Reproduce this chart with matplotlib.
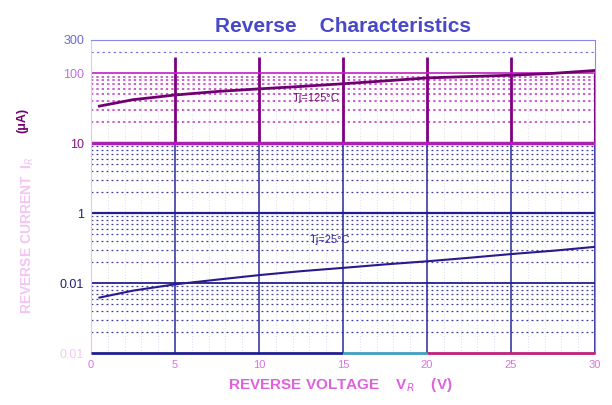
import matplotlib
matplotlib.use('Agg')
import matplotlib.pyplot as plt

plt.rcParams['font.family'] = ['Liberation Sans', 'DejaVu Sans']

# Reverse voltage (V) and reverse current (uA)
vr = [0.5, 2.5, 5, 7.5, 10, 12.5, 15, 17.5, 20, 22.5, 25, 27.5, 30]
ir_125 = [34, 42, 49, 55, 60, 65, 71, 78, 86, 90, 94, 100, 110]
ir_25 = [0.062, 0.078, 0.096, 0.112, 0.13, 0.148, 0.165, 0.185, 0.205, 0.23, 0.26, 0.29, 0.33]

x_ticks = [0, 5, 10, 15, 20, 25, 30]
x_tick_labels = ['0', '5', '10', '15', '20', '25', '30']
y_ticks = [300, 100, 10, 1, 0.1, 0.01]
y_tick_labels = ['300', '100', '10', '1', '0.01', '0.01']
y_tick_colors = ['#6a6ad8', '#c070e0', '#8a108a', '#202070', '#202070', '#f4c8f4']

fig = plt.figure(figsize=(6.12, 4.05), dpi=100)
ax = fig.add_axes([91 / 612, 52 / 405, 504 / 612, 313 / 405])
ax.set_yscale('log')
ax.set_xlim(0, 30)
ax.set_ylim(0.01, 300)

# dotted minor grid, magenta band between 10 and 100, blue below
for dec in [0.01, 0.1, 1]:
    for m in range(2, 10):
        ax.axhline(dec * m, color='#3a3aa0', lw=0.9, ls=(0, (1.5, 2.5)), zorder=1)
for m in range(2, 10):
    ax.axhline(10 * m, color='#c030c0', lw=1.1, ls=(0, (1.5, 2)), zorder=1)
ax.axhline(200, color='#6a6ae0', lw=0.8, ls=(0, (2, 3)), zorder=1)
for v in range(1, 30):
    if v % 5:
        ax.vlines(v, 0.01, 100, color='#c8b8e8', lw=0.5, ls=(0, (1, 3)), zorder=1)

# major grid
for v in x_ticks[1:-1]:
    ax.vlines(v, 0.01, 10, color='#2a2a9a', lw=1.1, zorder=2)
    ax.vlines(v, 10, 170, color='#800080', lw=2.0, zorder=2)
ax.vlines(30, 0.01, 10, color='#2a2a9a', lw=1.3, zorder=2)
ax.vlines(30, 10, 100, color='#800080', lw=2.2, zorder=2)
ax.axhline(100, color='#c020c0', lw=1.2, zorder=2)
ax.axhline(10, color='#b020b0', lw=2.5, zorder=2)
ax.axhline(1, color='#202090', lw=1.6, zorder=2)
ax.axhline(0.1, color='#202090', lw=1.3, zorder=2)

# bottom edge, blue on the left and magenta on the right as in the scan
ax.hlines(0.01, 0, 15, color='#202090', lw=2.0, zorder=3, clip_on=False)
ax.hlines(0.01, 15, 20, color='#40a0c0', lw=2.0, zorder=3, clip_on=False)
ax.hlines(0.01, 20, 30, color='#c0207a', lw=2.0, zorder=3, clip_on=False)

# curves
ax.plot(vr, ir_125, color='#700070', lw=2.0, zorder=3)
ax.plot(vr, ir_25, color='#2a1a8a', lw=1.5, zorder=3)
ax.text(12, 40, 'Tj=125\u00b0C', color='#7a107a', fontsize=8, zorder=4)
ax.text(13, 0.37, 'Tj=25\u00b0C', color='#3a2a9a', fontsize=8, zorder=4)

# frame
ax.spines['top'].set_color('#8888ee')
ax.spines['left'].set_color('#f0c0f0')
ax.spines['right'].set_color('#8888ee')
ax.spines['bottom'].set_visible(False)

ax.set_xticks(x_ticks)
ax.set_xticklabels(x_tick_labels, color='#e070e0', fontsize=8)
ax.set_yticks(y_ticks)
ax.set_yticklabels(y_tick_labels, fontsize=9)
for lbl, c in zip(ax.get_yticklabels(), y_tick_colors):
    lbl.set_color(c)
ax.minorticks_off()
ax.tick_params(length=0, pad=5)

fig.text(343 / 612, 1 - 26 / 405, 'Reverse    Characteristics', color='#4848c8',
         fontsize=15, fontweight='bold', ha='center', va='center')
fig.text(28 / 612, 1 - 235 / 405, 'REVERSE CURRENT  I$_R$', color='#f4c4f4',
         fontsize=10, fontweight='bold', rotation=90, ha='center', va='center')
fig.text(22 / 612, 1 - 120 / 405, '(\u03bcA)', color='#700070',
         fontsize=9, fontweight='bold', rotation=90, ha='center', va='center')
fig.text(340 / 612, 1 - 385 / 405, 'REVERSE VOLTAGE    V$_R$    (V)', color='#e060e0',
         fontsize=11, fontweight='bold', ha='center', va='center')

fig.savefig('out.png', dpi=100)
